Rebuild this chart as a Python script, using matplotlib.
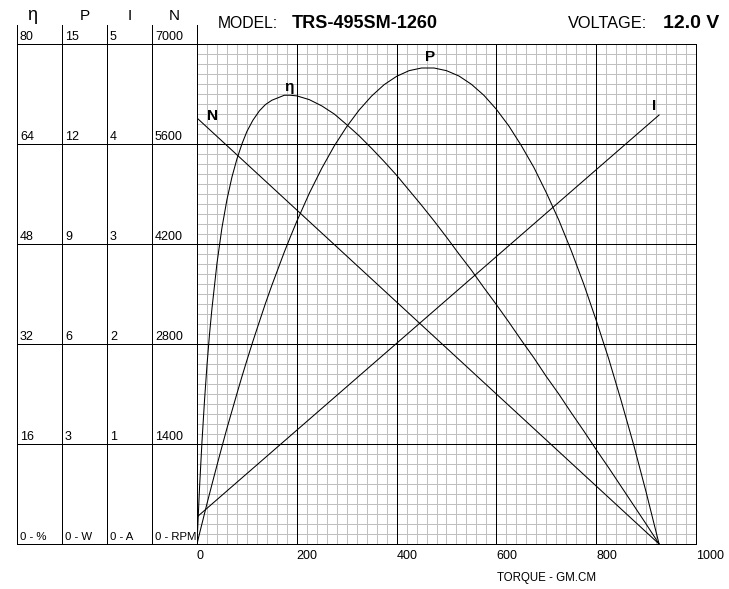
import matplotlib.pyplot as plt

# motor curve values
torque = [0, 5, 10, 15, 20, 25, 30, 40, 50, 60, 70, 80, 90, 100, 112, 125, 137,
          150, 175, 187, 200, 225, 250, 275, 300, 325, 350, 375, 400, 425, 450,
          475, 500, 525, 550, 575, 600, 625, 650, 675, 700, 725, 750, 775, 800,
          825, 850, 875, 900, 926]
eff = [0, 8.9, 16.4, 22.9, 28.6, 33.5, 37.7, 44.9, 50.6, 55.1, 58.7, 61.6, 64.0,
       66.0, 67.8, 69.3, 70.3, 71.0, 71.8, 71.8, 71.7, 71.1, 70.1, 68.8, 67.1,
       65.3, 63.3, 61.2, 59.0, 56.6, 54.2, 51.7, 49.1, 46.4, 43.8, 41.0, 38.3,
       35.5, 32.6, 29.8, 26.8, 24.0, 21.0, 18.1, 15.1, 12.2, 9.2, 6.2, 3.2, 0]
power = [0, 0.31, 0.61, 0.91, 1.21, 1.50, 1.79, 2.36, 2.92, 3.47, 3.99, 4.51,
         5.02, 5.51, 6.08, 6.67, 7.21, 7.76, 8.76, 9.21, 9.68, 10.52, 11.27,
         11.94, 12.52, 13.02, 13.44, 13.78, 14.03, 14.20, 14.28, 14.28, 14.20,
         14.04, 13.79, 13.46, 13.04, 12.54, 11.95, 11.30, 10.54, 9.72, 8.80,
         7.80, 6.71, 5.56, 4.30, 2.98, 1.56, 0]
line_torque = [0, 926]
speed = [5964, 0]
current = [0.27, 4.29]

eta_ticks = ['80', '64', '48', '32', '16', '0 - %']
p_ticks = ['15', '12', '9', '6', '3', '0 - W']
i_ticks = ['5', '4', '3', '2', '1', '0 - A']
n_ticks = ['7000', '5600', '4200', '2800', '1400', '0 - RPM']
x_ticks = [0, 200, 400, 600, 800, 1000]

W, H = 729, 589
GW = 0.5    # aliased 1px rules
LW = 0.75   # curves
plt.rcParams['font.family'] = ['Liberation Sans', 'DejaVu Sans']

fig = plt.figure(figsize=(W / 100, H / 100), dpi=100)

# background axes in pixel units for the scale panel
bg = fig.add_axes([0, 0, 1, 1])
bg.set_xlim(0, W)
bg.set_ylim(H, 0)
bg.axis('off')

cols = [17, 62, 107, 152, 197]
for x in cols:
    bg.plot([x, x], [25, 544], color='black', lw=GW, antialiased=False)
for y in [44, 144, 244, 344, 444, 544]:
    bg.plot([17, 197], [y, y], color='black', lw=GW, antialiased=False)

headers = ['η', 'P', 'I', 'N']
for i, (h, labels) in enumerate(zip(headers, [eta_ticks, p_ticks, i_ticks, n_ticks])):
    cx = (cols[i] + cols[i + 1]) / 2
    fig.text(cx - 7 if i == 0 else cx, 16, h, transform=bg.transData,
             ha='center', va='center', fontsize=11 if i else 13)
    for j, lab in enumerate(labels):
        fig.text(cols[i] + 3, 37 + 100 * j, lab, transform=bg.transData,
                 ha='left', va='center', fontsize=9 if j < 5 else 8.2)

fig.text(218, 24, 'MODEL:', transform=bg.transData, ha='left', va='center', fontsize=11.3)
fig.text(292, 24, 'TRS-495SM-1260', transform=bg.transData, ha='left', va='center',
         fontsize=13, fontweight='bold')
fig.text(568, 24, 'VOLTAGE:', transform=bg.transData, ha='left', va='center', fontsize=11.8)
fig.text(663, 24, '12.0 V', transform=bg.transData, ha='left', va='center',
         fontsize=14, fontweight='bold')
fig.text(497, 578, 'TORQUE - GM.CM', transform=bg.transData, ha='left', va='center',
         fontsize=8.3)

# main chart
ax = fig.add_axes([197 / W, 1 - 544 / H, 499 / W, 500 / H])
ax.set_xlim(0, 1000)
ax.set_ylim(0, 7000)
ax.set_xticks(x_ticks)
ax.set_yticks([])
ax.tick_params(which='both', length=0)
ax.tick_params(axis='x', labelsize=9, pad=4)
for lbl in ax.get_xticklabels():
    lbl.set_ha('left')
for s in ax.spines.values():
    s.set_color('black')
    s.set_linewidth(GW)
    s.set_antialiased(False)

# grid: light minor cells first, black major lines on top
for t in range(20, 1000, 20):
    if t % 200:
        ax.axvline(t, color='#c0c0c0', lw=GW, antialiased=False, zorder=0.5)
for r in range(140, 7000, 140):
    if r % 1400:
        ax.axhline(r, color='#c0c0c0', lw=GW, antialiased=False, zorder=0.5)
for t in x_ticks[1:-1]:
    ax.axvline(t, color='black', lw=GW, antialiased=False, zorder=0.6)
for r in range(1400, 7000, 1400):
    ax.axhline(r, color='black', lw=GW, antialiased=False, zorder=0.6)

ax.plot(line_torque, speed, color='black', lw=LW)

ax_eta = ax.twinx()
ax_eta.set_ylim(0, 80)
ax_eta.axis('off')
ax_eta.plot(torque, eff, color='black', lw=LW)

ax_p = ax.twinx()
ax_p.set_ylim(0, 15)
ax_p.axis('off')
ax_p.plot(torque, power, color='black', lw=LW)

ax_i = ax.twinx()
ax_i.set_ylim(0, 5)
ax_i.axis('off')
ax_i.plot(line_torque, current, color='black', lw=LW)

# curve names
for s, x, y in [('N', 213, 116), ('η', 289, 87), ('P', 430, 57), ('I', 654, 106)]:
    fig.text(x, y, s, transform=bg.transData, ha='center', va='center',
             fontsize=11, fontweight='bold')

fig.savefig('out.png', dpi=100)
